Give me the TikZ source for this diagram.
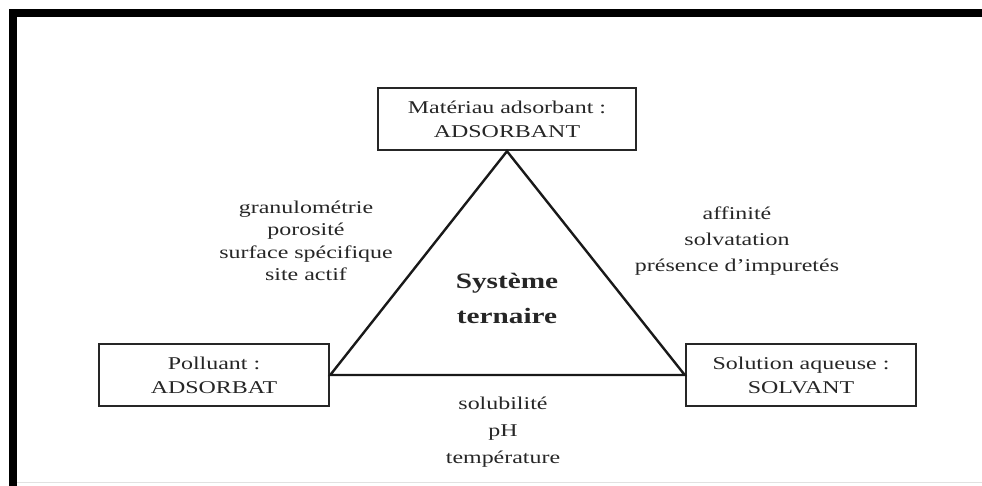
\documentclass[tikz,border=0pt]{standalone}
\usepackage{fontspec}
\setmainfont{Liberation Serif}[FakeStretch=1.33]
\usepackage{tikz}
\usetikzlibrary{positioning}
\usepackage{xcolor}
\definecolor{inkgray}{RGB}{38,38,38}
\definecolor{rulegray}{RGB}{225,225,225}
\tikzset{termbox/.style={rectangle, draw=black!85, line width=2.5pt, fill=white, align=center, text=inkgray, minimum height=62pt, font=\fontsize{18}{24}\selectfont},
paramlabel/.style={align=center, text=inkgray, inner sep=0pt}}

\begin{document}
\begin{tikzpicture}[
                x=1pt, y=1pt,
                termbox/.style={rectangle, draw=black!85, line width=2.5pt, fill=white, align=center, text=inkgray, minimum height=62pt, font=\fontsize{18}{24}\selectfont},
                paramlabel/.style={align=center, text=inkgray, inner sep=0pt}
            ]
                \useasboundingbox (0pt, 0pt) rectangle (982pt, 486pt);

                % Frame
                \fill[black] (9pt, 469pt) rectangle (982pt, 477pt);
                \fill[black] (9pt, 0pt) rectangle (17pt, 477pt);
                \draw[rulegray, line width=1pt] (17pt, 3pt) -- (982pt, 3pt);

                % Boxes
                \node[termbox, minimum width=258pt] (adsorbant) at (507pt, 367pt) {Matériau adsorbant :\\ADSORBANT};
                \node[termbox, minimum width=230pt] (adsorbat) at (214pt, 111pt) {Polluant :\\ADSORBAT};
                \node[termbox, minimum width=230pt] (solvant) at (801pt, 111pt) {Solution aqueuse :\\SOLVANT};

                % Triangle
                \draw[black!90, line width=2.4pt, line join=miter] (adsorbant.south) -- (adsorbat.east) -- (solvant.west) -- cycle;

                % Labels
                \node[paramlabel, font=\fontsize{22}{35}\selectfont\bfseries] (systeme) at (507pt, 188pt) {Système\\ternaire};
                \node[paramlabel, font=\fontsize{18}{22.5}\selectfont] (solide) at (306pt, 245pt) {granulométrie\\porosité\\surface spécifique\\site actif};
                \node[paramlabel, font=\fontsize{18}{26}\selectfont] (solution) at (737pt, 245pt) {affinité\\solvatation\\présence d’impuretés};
                \node[paramlabel, font=\fontsize{18}{27}\selectfont] (milieu) at (503pt, 54pt) {solubilité\\pH\\température};
            \end{tikzpicture}
\end{document}
